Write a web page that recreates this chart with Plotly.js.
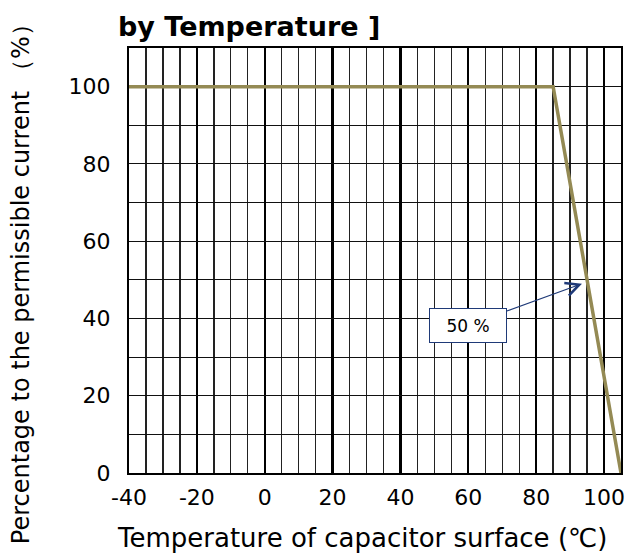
<!DOCTYPE html>
<html>
<head>
<meta charset="utf-8">
<script src="https://cdn.plot.ly/plotly-3.0.1.min.js"></script>
<style>html,body{margin:0;padding:0;background:#fff;}#chart{width:630px;height:559px;}</style>
</head>
<body>
<div id="chart"></div>
<script>
// Data
const temperature = [-40, 85, 105];
const percentCurrent = [100, 100, 0];
const xTickVals = [-40, -20, 0, 20, 40, 60, 80, 100];
const xTickText = ["-40", "-20", "0", "20", "40", "60", "80", "100"];
const yTickVals = [0, 20, 40, 60, 80, 100];
const yTickText = ["0", "20", "40", "60", "80", "100"];
const annoPoint = {x: 93.5, y: 49};
const annoBox = {x: 60, y: 38.3};
const chartTitle = "by Temperature ]";
const xTitle = "Temperature of capacitor surface (℃)";
const yTitle = "Percentage to the permissible current （%）";

const FONT = "DejaVu Sans, Verdana, sans-serif";

const trace = {
  x: temperature, y: percentCurrent, type: "scatter", mode: "lines",
  line: {color: "#948A54", width: 3.5}, hoverinfo: "skip", showlegend: false
};

const layout = {
  width: 630, height: 559,
  margin: {l: 129, r: 9, t: 48, b: 86},
  paper_bgcolor: "#fff", plot_bgcolor: "#fff",
  font: {family: FONT, color: "#000", size: 22},
  title: {text: "<b>" + chartTitle + "</b>", x: 118/630, xanchor: "left", xref: "container",
          y: 1 - 27/559, yanchor: "middle", yref: "container",
          font: {family: FONT, size: 27, color: "#000"}},
  xaxis: {
    range: [-40, 105], tickvals: xTickVals, ticktext: xTickText, ticks: "", showgrid: true,
    gridcolor: "#000", gridwidth: 2.2,
    minor: {dtick: 5, tick0: 0, showgrid: true, gridcolor: "#222", gridwidth: 1.4, ticks: ""},
    showline: true, linecolor: "#000", linewidth: 2, mirror: true, zeroline: false,
    tickfont: {size: 22, family: FONT}, ticklabelstandoff: 4, fixedrange: true
  },
  yaxis: {
    range: [0, 110], tickvals: yTickVals, ticktext: yTickText, ticks: "", showgrid: true,
    gridcolor: "#111", gridwidth: 1,
    minor: {dtick: 10, tick0: 0, showgrid: true, gridcolor: "#111", gridwidth: 1, ticks: ""},
    showline: true, linecolor: "#000", linewidth: 2, mirror: true, zeroline: false,
    tickfont: {size: 22, family: FONT}, ticklabelstandoff: 12, fixedrange: true
  },
  annotations: [
    {x: annoPoint.x, y: annoPoint.y, xref: "x", yref: "y",
     ax: annoBox.x, ay: annoBox.y, axref: "x", ayref: "y",
     text: "50 %", showarrow: true, arrowhead: 5, arrowsize: 2.2, arrowwidth: 1.2,
     arrowcolor: "#1F3A78", bgcolor: "#fff", bordercolor: "#1F3A78", borderwidth: 1,
     width: 74, height: 31, font: {size: 17, family: FONT, color: "#000"}},
    {x: 0.474, y: -0.152, xref: "paper", yref: "paper", showarrow: false,
     text: xTitle, xanchor: "center", yanchor: "middle", font: {size: 26, family: FONT}},
    {x: (21-129)/492, y: (473-278)/425.3, xref: "paper", yref: "paper", showarrow: false,
     text: yTitle, textangle: -90, xanchor: "center", yanchor: "middle", font: {size: 24, family: FONT}}
  ]
};

Plotly.newPlot("chart", [trace], layout, {staticPlot: true, displayModeBar: false});
</script>
</body>
</html>
